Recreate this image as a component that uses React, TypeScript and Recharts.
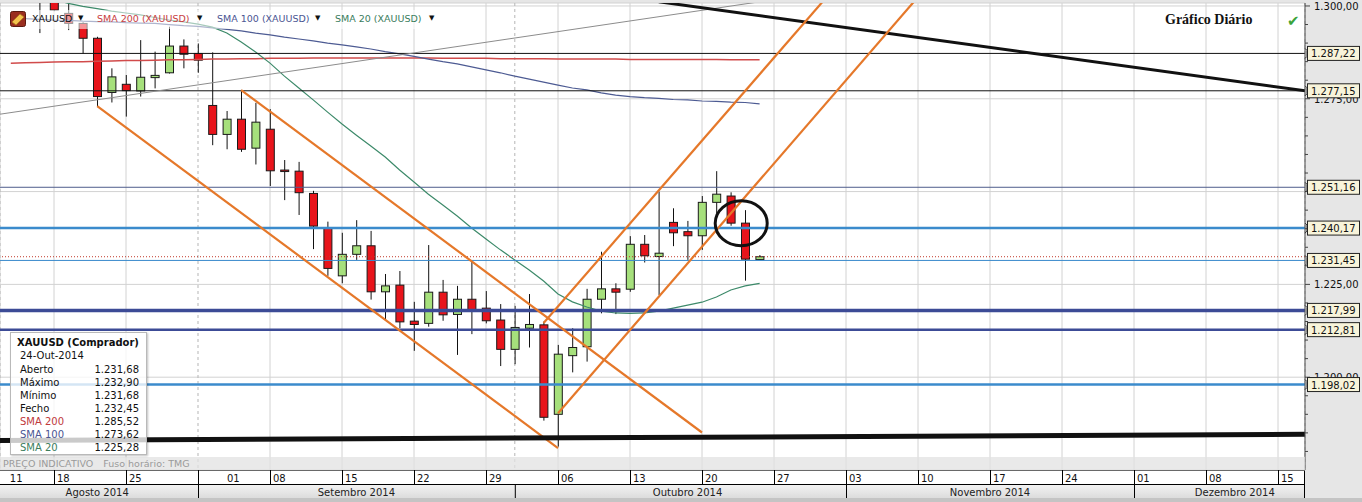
import React from 'react';
import { ComposedChart, Bar, Line, XAxis, YAxis, ReferenceLine, ReferenceDot, CartesianGrid } from 'recharts';

const FONT = '"DejaVu Sans", Verdana, sans-serif';

// ---- categories (trading days, 2014) ----
const augDays = [12, 13, 14, 15, 18, 19, 20, 21, 22, 25, 26, 27, 28, 29];
const sepDays = [1, 2, 3, 4, 5, 8, 9, 10, 11, 12, 15, 16, 17, 18, 19, 22, 23, 24, 25, 26, 29, 30];
const octDays = [1, 2, 3, 6, 7, 8, 9, 10, 13, 14, 15, 16, 17, 20, 21, 22, 23, 24, 27, 28, 29, 30, 31];
const novDays = [3, 4, 5, 6, 7, 10, 11, 12, 13, 14, 17, 18, 19, 20, 21, 24, 25, 26, 27, 28];
const decDays = [1, 2, 3, 4, 5, 8, 9, 10, 11, 12, 15, 16, 17];
const p2 = (n: number) => String(n).padStart(2, '0');
const tradingDates = [
  ...augDays.map((d) => `08-${p2(d)}`),
  ...sepDays.map((d) => `09-${p2(d)}`),
  ...octDays.map((d) => `10-${p2(d)}`),
  ...novDays.map((d) => `11-${p2(d)}`),
  ...decDays.map((d) => `12-${p2(d)}`),
];
// dates with price history: 08-13 .. 10-24
const histDates = tradingDates.slice(1, 54);

// ---- OHLC (XAUUSD daily) ----
const opens = [null, null, 1306.0, 1303.0, 1298.0, 1295.3, 1291.3, 1276.7, 1278.9, 1277.1, 1280.7, 1282.0, 1289.2,
  1287.2, 1273.2, 1265.4, 1269.5, 1261.7, 1266.8, 1255.8, 1255.5, 1249.5, 1240.3, 1227.3, 1233.1, 1235.4, 1223.0, 1224.8, 1215.1, 1214.5, 1222.9, 1216.9, 1221.0, 1218.6, 1215.4,
  1207.5, 1213.2, 1214.1, 1190.0, 1205.8, 1208.2, 1221.0, 1223.8, 1223.7, 1235.8, 1232.5, 1241.7, 1239.2, 1238.1, 1247.1, 1248.8, 1241.5, 1231.68];
const highs = [null, null, 1308.0, 1304.0, 1301.0, 1295.6, 1291.7, 1283.2, 1281.4, 1290.8, 1287.7, 1294.4, 1291.0,
  1289.9, 1287.5, 1271.7, 1277.4, 1273.9, 1272.2, 1258.5, 1258.0, 1250.2, 1241.9, 1238.9, 1242.3, 1239.4, 1227.8, 1228.6, 1220.3, 1235.6, 1226.2, 1224.6, 1231.1, 1223.2, 1219.7,
  1219.2, 1222.4, 1215.0, 1208.7, 1213.2, 1223.8, 1233.8, 1225.3, 1238.0, 1238.3, 1250.0, 1245.5, 1242.1, 1248.8, 1255.5, 1249.8, 1245.0, 1232.9];
const lows = [null, null, 1292.7, 1298.6, 1293.5, 1287.2, 1272.9, 1274.0, 1270.2, 1275.6, 1277.8, 1281.8, 1283.2,
  1282.0, 1262.5, 1261.4, 1260.7, 1257.3, 1251.5, 1247.7, 1243.7, 1234.5, 1227.3, 1225.3, 1231.6, 1220.9, 1215.5, 1213.2, 1207.1, 1213.6, 1215.2, 1206.0, 1211.6, 1214.5, 1203.0,
  1203.5, 1208.0, 1188.3, 1181.3, 1201.3, 1204.2, 1217.2, 1217.0, 1223.0, 1230.9, 1222.1, 1235.3, 1231.6, 1234.3, 1244.1, 1240.8, 1226.0, 1231.68];
const closes = [null, null, 1302.0, 1298.9, 1295.3, 1291.3, 1275.6, 1280.9, 1277.2, 1280.8, 1281.3, 1289.2, 1287.0,
  1285.4, 1265.4, 1269.5, 1261.4, 1268.7, 1255.6, 1255.4, 1249.7, 1240.7, 1229.3, 1233.1, 1235.4, 1223.0, 1224.6, 1214.9, 1214.2, 1222.9, 1216.8, 1221.0, 1217.8, 1215.2, 1207.5,
  1213.4, 1214.2, 1189.2, 1206.2, 1208.0, 1221.0, 1223.8, 1222.9, 1235.8, 1232.7, 1233.4, 1238.9, 1238.1, 1247.1, 1249.3, 1241.5, 1231.8, 1232.45];

// ---- moving averages ----
const sma20Vals = [null, null, 1302.6, 1301.7, 1300.7, 1299.9, 1299.3, 1298.6, 1298.1, 1297.6, 1296.9, 1296.2, 1295.7,
  1295.1, 1294.3, 1292.7, 1290.3, 1287.6, 1284.6, 1281.1, 1277.9, 1274.7, 1271.4, 1268.2, 1265.2, 1262.3, 1259.3, 1255.8, 1252.6, 1249.3, 1246.4, 1243.4, 1240.2, 1237.2, 1234.3,
  1231.6, 1228.9, 1225.9, 1222.4, 1220.3, 1218.9, 1217.8, 1217.3, 1217.2, 1217.3, 1217.8, 1218.6, 1219.4, 1220.2, 1221.6, 1223.5, 1224.6, 1225.28];
const sma100Vals = [1296.8, 1296.6, 1296.4, 1296.2, 1296.1, 1295.9, 1295.8, 1295.7, 1295.5, 1295.4, 1295.3, 1295.0, 1294.7,
  1294.5, 1294.1, 1293.7, 1293.3, 1292.7, 1292.2, 1291.6, 1291.1, 1290.6, 1290.0, 1289.5, 1289.0, 1288.4, 1287.7, 1287.1, 1286.4, 1285.7, 1285.0, 1284.4, 1283.6, 1282.8, 1282.0,
  1281.1, 1280.3, 1279.5, 1278.7, 1277.9, 1277.4, 1276.6, 1276.0, 1275.6, 1275.3, 1275.1, 1274.8, 1274.7, 1274.4, 1274.3, 1274.1, 1274.0, 1273.62];
const sma200Vals = [1284.6, 1284.7, 1284.8, 1284.9, 1285.0, 1285.0, 1285.1, 1285.2, 1285.3, 1285.3, 1285.4, 1285.5, 1285.5,
  1285.6, 1285.7, 1285.7, 1285.8, 1285.8, 1285.9, 1285.9, 1285.9, 1286.0, 1286.0, 1286.0, 1286.0, 1286.0, 1286.0, 1286.0, 1286.0, 1286.0, 1285.9, 1285.9, 1285.9, 1285.9, 1285.8,
  1285.8, 1285.8, 1285.8, 1285.7, 1285.7, 1285.7, 1285.7, 1285.7, 1285.6, 1285.6, 1285.6, 1285.6, 1285.6, 1285.6, 1285.6, 1285.5, 1285.5, 1285.52];

// ---- horizontal levels ----
const levelValues = [1287.22, 1277.15, 1251.16, 1240.17, 1231.45, 1217.99, 1212.81, 1198.02];
const levelColors = ['#111111', '#111111', '#4f5d8c', '#3b8bcc', '#3b8bcc', '#3c4b96', '#3c4b96', '#3b8bcc'];
const levelWidths = [1, 1, 1, 2.5, 1, 3.5, 2.5, 2.5];
const lastPrice = 1232.45;

// ---- trend lines (date, value) ----
const trendFromDates = ['08-12', '10-15', '08-21', '09-04', '10-06', '10-03', '08-12'];
const trendFromValues = [1270.7, 1301.13, 1273.05, 1277.36, 1190.3, 1214.6, 1182.95];
const trendToDates = ['10-31', '12-17', '10-06', '10-20', '11-11', '11-03', '12-17'];
const trendToValues = [1304.0, 1277.1, 1180.9, 1185.1, 1306.9, 1308.4, 1184.6];
const trendColors = ['#8c8c8c', '#111111', '#e5782a', '#e5782a', '#e5782a', '#e5782a', '#111111'];
const trendWidths = [1, 3, 2.2, 2.2, 2.2, 2.2, 5];

// ---- circled annotation ----
const circleDate = '10-23';
const circleValue = 1241.45;

// ---- axes ----
const yTicks = [1180, 1185, 1190, 1195, 1200, 1205, 1210, 1215, 1220, 1225, 1230, 1235, 1240, 1245, 1250, 1255, 1260, 1265, 1270, 1275, 1280, 1285, 1290, 1295, 1300];
const yLabelValues = [1200, 1225, 1250, 1275, 1300];
const yHiddenLabelValues = [1250]; // fully covered by the 1.251,16 box in the original
const weekGridDates = ['08-18', '08-25', '09-08', '09-15', '09-22', '09-29', '10-06', '10-13', '10-20', '10-27', '11-03', '11-10', '11-17', '11-24', '12-01', '12-08', '12-15'];
const monthGridDates = ['09-01', '10-01'];
const dayTickDates = ['08-13', '08-18', '08-25', '09-01', '09-08', '09-15', '09-22', '09-29', '10-06', '10-13', '10-20', '10-27', '11-03', '11-10', '11-17', '11-24', '12-01', '12-08', '12-15'];
const dayTickLabels = ['11', '18', '25', '01', '08', '15', '22', '29', '06', '13', '20', '27', '03', '10', '17', '24', '01', '08', '15'];
const monthStartDates = ['09-01', '10-01', '11-03', '12-01'];
const monthLabelDates = ['08-21', '09-16', '10-17', '11-17', '12-10'];
const monthLabels = ['Agosto 2014', 'Setembro 2014', 'Outubro 2014', 'Novembro 2014', 'Dezembro 2014'];
const xTickDates = Array.from(new Set([...dayTickDates, ...monthStartDates, ...monthLabelDates]));

// ---- info box ----
const infoTitle = 'XAUUSD (Comprador)';
const infoDate = '24-Out-2014';
const infoLabels = ['Aberto', 'Máximo', 'Mínimo', 'Fecho', 'SMA 200', 'SMA 100', 'SMA 20'];
const infoValues = [1231.68, 1232.9, 1231.68, 1232.45, 1285.52, 1273.62, 1225.28];
const infoColors = ['#111', '#111', '#111', '#111', '#c0393b', '#4a5592', '#3a7d5c'];

const fmt = (v: number) => {
  const [i, d] = v.toFixed(2).split('.');
  return i.replace(/\B(?=(\d{3})+(?!\d))/g, '.') + ',' + d;
};

const data = tradingDates.map((date) => {
  const k = histDates.indexOf(date);
  return {
    date,
    o: k >= 0 ? opens[k] : null,
    h: k >= 0 ? highs[k] : null,
    l: k >= 0 ? lows[k] : null,
    c: k >= 0 ? closes[k] : null,
    sma20: k >= 0 ? sma20Vals[k] : null,
    sma100: k >= 0 ? sma100Vals[k] : null,
    sma200: k >= 0 ? sma200Vals[k] : null,
  };
});

const Candle = (props: any) => {
  const { x, y, width, height, payload } = props;
  if (!payload || payload.o == null || !isFinite(y) || !isFinite(height)) return <g />;
  const top = Math.min(y, y + height);
  const h = Math.abs(height);
  const range = payload.h - payload.l;
  const k = range > 0 ? h / range : 0;
  const bTop = top + (payload.h - Math.max(payload.o, payload.c)) * k;
  const bBot = top + (payload.h - Math.min(payload.o, payload.c)) * k;
  const up = payload.c >= payload.o;
  const cx = x + width / 2;
  return (
    <g>
      <line x1={cx} x2={cx} y1={top} y2={top + h} stroke="#111" strokeWidth={1} />
      <rect x={x + 0.5} y={bTop} width={width - 1} height={Math.max(1.5, bBot - bTop)}
        fill={up ? '#a6e07c' : '#e8141b'} stroke="#1a1a1a" strokeWidth={1} />
    </g>
  );
};

// right axis: scale ticks + boxed labels of the horizontal levels (drawn last, on top)
const YTick = (props: any) => {
  const { x, y, payload } = props;
  const v = payload.value;
  if (levelValues.includes(v)) {
    return (
      <g>
        <path d={`M${x} ${y - 5} L${x + 2} ${y - 3} L${x + 2} ${y + 3} L${x} ${y + 5}`} stroke="#333" fill="none" strokeWidth={1} />
        <rect x={x + 2.5} y={y - 7} width={52} height={14} fill="#f8f4da" stroke="#222" strokeWidth={1} />
        <text x={x + 6} y={y + 4} fontSize={10} fill="#111" fontFamily={FONT}>{fmt(v)}</text>
      </g>
    );
  }
  const major = yLabelValues.includes(v);
  const showText = major && !yHiddenLabelValues.includes(v);
  return (
    <g>
      <line x1={x} x2={x + (major ? 5 : 3)} y1={y} y2={y} stroke="#444" strokeWidth={1} />
      {showText && (
        <text x={x + 9} y={y + 4} fontSize={10} fill="#111" fontFamily={FONT}>{fmt(v)}</text>
      )}
    </g>
  );
};

// bottom axis: day row (top 15px) + month row (below)
const XTick = (props: any) => {
  const { x, y, payload } = props;
  const v = payload.value;
  const parts: any[] = [];
  const di = dayTickDates.indexOf(v);
  if (di >= 0) {
    const first = di === 0;
    const centered = v === '09-01';
    const tx = centered ? x + 29 : first ? x - 1 : x + 3;
    if (!first) parts.push(<line key="dl" x1={x + 0.5} x2={x + 0.5} y1={y} y2={y + 15} stroke="#000" strokeWidth={1} />);
    parts.push(<text key="dt" x={tx} y={y + 11.5} fontSize={10} fill="#111" fontFamily={FONT}>{dayTickLabels[di]}</text>);
  }
  if (monthStartDates.includes(v)) {
    parts.push(<line key="ml" x1={x + 0.5} x2={x + 0.5} y1={y + 15} y2={y + 28} stroke="#000" strokeWidth={1} />);
  }
  const mi = monthLabelDates.indexOf(v);
  if (mi >= 0) {
    parts.push(<text key="mt" x={x} y={y + 25.5} textAnchor="middle" fontSize={10} fill="#222" fontFamily={FONT}>{monthLabels[mi]}</text>);
  }
  return <g>{parts}</g>;
};

const PAD = { left: -10.8, right: -9 };

export default function App() {
  return (
    <div style={{ position: 'relative', width: 1362, height: 502, background: '#e6e6e6', overflow: 'hidden', fontFamily: FONT }}>
      <style>{'body{margin:0}'}</style>
      {/* plot background */}
      <div style={{ position: 'absolute', left: 0, top: 3, width: 1305, height: 467, background: '#ffffff' }} />
      {/* day row */}
      <div style={{ position: 'absolute', left: 0, top: 470, width: 1305, height: 15, background: '#ffffff', borderTop: '1px solid #000', borderBottom: '1px solid #000', borderRight: '1px solid #000', boxSizing: 'border-box' }} />
      {/* month row */}
      <div style={{ position: 'absolute', left: 0, top: 485, width: 1305, height: 13, background: 'linear-gradient(#f2f2f2, #dcdcdc)', borderRight: '1px solid #000', boxSizing: 'border-box' }} />
      <div style={{ position: 'absolute', left: 0, top: 498, width: 1362, height: 4, background: '#c4c4c4' }} />

      <div style={{ position: 'absolute', left: 0, top: 0 }}>
        <ComposedChart width={1362} height={502} data={data} margin={{ top: 3, right: 0, bottom: 0, left: 0 }}>
          <CartesianGrid stroke="#d2d2d2" strokeWidth={1} xAxisId="gw" yAxisId="gy" />
          <CartesianGrid stroke="#b5b5b5" strokeDasharray="3 3" horizontal={false} xAxisId="gm" yAxisId="gy" />
          <XAxis dataKey="date" type="category" height={32} padding={PAD} ticks={xTickDates} interval={0}
            tick={(p: any) => <XTick {...p} />} tickLine={false} axisLine={false} tickSize={0} tickMargin={0} />
          <XAxis xAxisId="gw" dataKey="date" type="category" hide padding={PAD} ticks={weekGridDates} interval={0} />
          <XAxis xAxisId="gm" dataKey="date" type="category" hide padding={PAD} ticks={monthGridDates} interval={0} />
          <YAxis orientation="right" type="number" width={57} domain={[1175, 1300.8]} allowDataOverflow ticks={[...yTicks, ...levelValues]} interval={0}
            tick={(p: any) => <YTick {...p} />} tickLine={false} tickSize={0} tickMargin={0} axisLine={{ stroke: '#555' }} />
          <YAxis yAxisId="gy" orientation="right" type="number" hide domain={[1175, 1300.8]} allowDataOverflow ticks={yLabelValues} interval={0} />

          <Bar dataKey={(d: any) => (d.o == null ? null : [d.l, d.h])} barSize={9} shape={(p: any) => <Candle {...p} />} isAnimationActive={false} />

          <Line dataKey="sma200" stroke="#d14b4b" strokeWidth={1.5} dot={false} activeDot={false} isAnimationActive={false} />
          <Line dataKey="sma100" stroke="#4d5b93" strokeWidth={1.2} dot={false} activeDot={false} isAnimationActive={false} />
          <Line dataKey="sma20" stroke="#3d8a6a" strokeWidth={1.2} dot={false} activeDot={false} isAnimationActive={false} />

          {levelValues.map((v, i) => (
            <ReferenceLine key={`lv${i}`} y={v} stroke={levelColors[i]} strokeWidth={levelWidths[i]} />
          ))}
          <ReferenceLine y={lastPrice} stroke="#c0392b" strokeWidth={1} strokeDasharray="1 2" />

          {trendFromDates.map((d, i) => (
            <ReferenceLine key={`tr${i}`} ifOverflow="hidden"
              segment={[{ x: d, y: trendFromValues[i] }, { x: trendToDates[i], y: trendToValues[i] }]}
              stroke={trendColors[i]} strokeWidth={trendWidths[i]} />
          ))}

          <ReferenceDot x={circleDate} y={circleValue} r={20}
            shape={(p: any) => <ellipse cx={p.cx - 4} cy={p.cy} rx={26} ry={22.5} fill="none" stroke="#111" strokeWidth={3} />} />
        </ComposedChart>
      </div>

      {/* legend */}
      <div style={{ position: 'absolute', left: 8, top: 10, width: 434, height: 19, background: 'rgba(255,255,255,0.55)' }} />
      <svg style={{ position: 'absolute', left: 10, top: 11 }} width={16} height={16}>
        <rect x={0.5} y={0.5} width={15} height={15} rx={2} fill="#9a2e1f" stroke="#5a1a10" />
        <polygon points="2,11 10,3 14,6 6,14" fill="#f3c34e" stroke="#b07a1a" strokeWidth={0.8} />
      </svg>
      <div style={{ position: 'absolute', left: 32, top: 13, fontSize: 9.5, color: '#111', whiteSpace: 'nowrap' }}>XAUUSD</div>
      <div style={{ position: 'absolute', left: 78, top: 14, fontSize: 7, color: '#111' }}>▼</div>
      <div style={{ position: 'absolute', left: 97, top: 13, fontSize: 9.5, color: '#c8403f', whiteSpace: 'nowrap' }}>SMA 200 (XAUUSD)</div>
      <div style={{ position: 'absolute', left: 197, top: 14, fontSize: 7, color: '#111' }}>▼</div>
      <div style={{ position: 'absolute', left: 217, top: 13, fontSize: 9.5, color: '#4a5592', whiteSpace: 'nowrap' }}>SMA 100 (XAUUSD)</div>
      <div style={{ position: 'absolute', left: 315, top: 14, fontSize: 7, color: '#111' }}>▼</div>
      <div style={{ position: 'absolute', left: 335, top: 13, fontSize: 9.5, color: '#3a7d5c', whiteSpace: 'nowrap' }}>SMA 20 (XAUUSD)</div>
      <div style={{ position: 'absolute', left: 429, top: 14, fontSize: 7, color: '#111' }}>▼</div>

      {/* title */}
      <div style={{ position: 'absolute', left: 1165, top: 12, fontSize: 14, fontWeight: 'bold', fontFamily: '"Liberation Serif", "Times New Roman", serif', color: '#111', whiteSpace: 'nowrap' }}>Gráfico Diário</div>
      <div style={{ position: 'absolute', left: 1287, top: 12, fontSize: 15, color: '#3aa33a', fontWeight: 'bold' }}>✔</div>

      {/* indicative price strip */}
      <div style={{ position: 'absolute', left: 0, top: 457, width: 1305, height: 13, background: 'rgba(226,226,226,0.75)' }} />
      <div style={{ position: 'absolute', left: 3, top: 458, fontSize: 9.5, color: '#9a9a9a', whiteSpace: 'nowrap' }}>
        PREÇO INDICATIVO<span style={{ marginLeft: 10 }}>Fuso horário: TMG</span>
      </div>

      {/* info box */}
      <div style={{ position: 'absolute', left: 10, top: 332, width: 137, height: 123, background: 'rgba(255,255,255,0.78)', border: '1px solid #b9b9b9', boxShadow: '1px 1px 2px rgba(0,0,0,0.25)', boxSizing: 'border-box' }}>
        <div style={{ position: 'absolute', left: 6, top: 4, fontSize: 10, fontWeight: 'bold', color: '#111', whiteSpace: 'nowrap' }}>{infoTitle}</div>
        <div style={{ position: 'absolute', left: 9, top: 17, fontSize: 10, color: '#111', whiteSpace: 'nowrap' }}>{infoDate}</div>
        {infoLabels.map((lab, i) => (
          <div key={lab} style={{ position: 'absolute', left: 9, top: 30 + i * 13, width: 119, fontSize: 10, lineHeight: '13px', color: infoColors[i], whiteSpace: 'nowrap' }}>
            <span>{lab}</span>
            <span style={{ position: 'absolute', right: 0, color: '#111' }}>{fmt(infoValues[i])}</span>
          </div>
        ))}
      </div>
    </div>
  );
}
